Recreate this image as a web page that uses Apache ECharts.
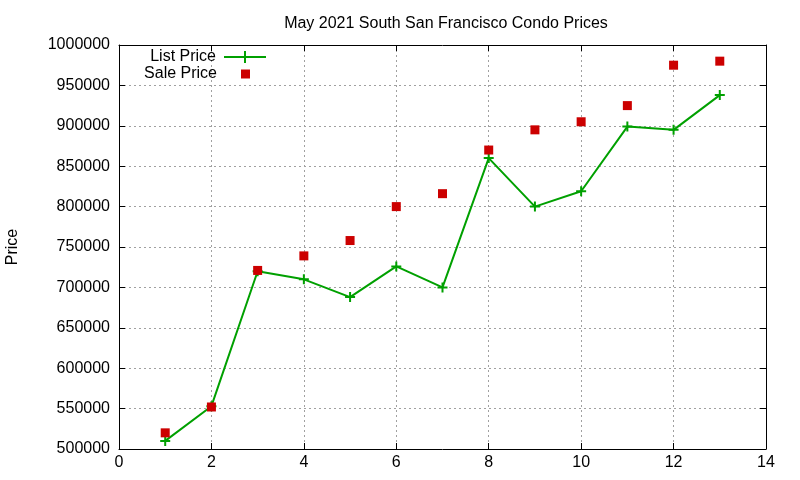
<!DOCTYPE html>
<html>
<head>
<meta charset="utf-8">
<script src="https://cdn.jsdelivr.net/npm/echarts@6/dist/echarts.min.js"></script>
<style>
  html, body { margin: 0; padding: 0; background: #fff; }
  #chart { width: 800px; height: 480px; }
</style>
</head>
<body>
<div id="chart"></div>
<script>
// month index (x) and prices
var months = [1, 2, 3, 4, 5, 6, 7, 8, 9, 10, 11, 12, 13];
var listPrice = [510000, 553000, 720000, 710000, 688000, 726000, 700000, 860000, 800000, 819000, 899000, 895000, 938000];
var salePrice = [520000, 552000, 721000, 739000, 758000, 800000, 816000, 870000, 895000, 905000, 925000, 975000, 980000];

var FONT = 'Liberation Sans';
var FS = 16;
var plusIcon = 'path://M4,0 h2 v4 h4 v2 h-4 v4 h-2 v-4 h-4 v-2 h4 z';

function pairs(xs, ys) {
    var out = [];
    for (var i = 0; i < xs.length; i++) {
        out.push([xs[i], ys[i]]);
    }
    return out;
}

var chart = echarts.init(document.getElementById('chart'));

var gridLine = { show: true, lineStyle: { color: '#a0a0a0', type: [2, 3], width: 1 } };
var blackLine = { show: true, onZero: false, lineStyle: { color: '#000', width: 1 } };
var tickIn = { show: true, inside: true, length: 6, lineStyle: { color: '#000' } };

var option = {
    animation: false,
    backgroundColor: '#fff',
    title: {
        text: 'May 2021 South San Francisco Condo Prices',
        left: 441,
        top: 11,
        textAlign: 'center',
        textStyle: { fontFamily: FONT, fontSize: FS, fontWeight: 'normal', color: '#000' }
    },
    legend: [{
        data: [{ name: 'List Price', icon: 'path://M0,5 h42 v2 h-42 z M20,0 h2 v12 h-2 z' }],
        align: 'right',
        right: 534,
        top: 49,
        padding: 0,
        itemWidth: 42,
        itemHeight: 12,
        textStyle: { fontFamily: FONT, fontSize: FS, color: '#000', padding: [0, 3, 0, 0] }
    }, {
        data: [{ name: 'Sale Price', icon: 'rect' }],
        align: 'right',
        right: 550,
        top: 66,
        padding: 0,
        itemWidth: 9,
        itemHeight: 9,
        textStyle: { fontFamily: FONT, fontSize: FS, color: '#000', padding: [0, 19, 0, 0] }
    }],
    grid: { left: 119, right: 34, top: 45, bottom: 31, containLabel: false, outerBoundsMode: 'none' },
    xAxis: [{
        type: 'value', min: 0, max: 14, interval: 2, position: 'bottom',
        axisLine: blackLine, axisTick: tickIn, splitLine: gridLine,
        axisLabel: { fontFamily: FONT, fontSize: FS, color: '#000', margin: 6 }
    }, {
        type: 'value', min: 0, max: 14, interval: 2, position: 'top',
        axisLine: blackLine, axisTick: tickIn, splitLine: { show: false },
        axisLabel: { show: false }
    }],
    yAxis: [{
        type: 'value', min: 500000, max: 1000000, interval: 50000, position: 'left',
        name: 'Price', nameLocation: 'middle', nameGap: 98, nameRotate: 90,
        nameTextStyle: { fontFamily: FONT, fontSize: FS, color: '#000' },
        axisLine: blackLine, axisTick: tickIn, splitLine: gridLine,
        axisLabel: {
            fontFamily: FONT, fontSize: FS, color: '#000', margin: 9,
            formatter: function (v) { return String(v); }
        }
    }, {
        type: 'value', min: 500000, max: 1000000, interval: 50000, position: 'right',
        axisLine: blackLine, axisTick: tickIn, splitLine: { show: false },
        axisLabel: { show: false }
    }],
    series: [{
        name: 'List Price',
        type: 'line',
        data: pairs(months, listPrice),
        symbol: plusIcon,
        symbolSize: 10,
        itemStyle: { color: '#00a000' },
        lineStyle: { color: '#00a000', width: 2 },
        z: 3
    }, {
        name: 'Sale Price',
        type: 'scatter',
        data: pairs(months, salePrice),
        symbol: 'rect',
        symbolSize: 9,
        itemStyle: { color: '#cc0000', opacity: 1 },
        z: 4
    }]
};

chart.setOption(option);
</script>
</body>
</html>
